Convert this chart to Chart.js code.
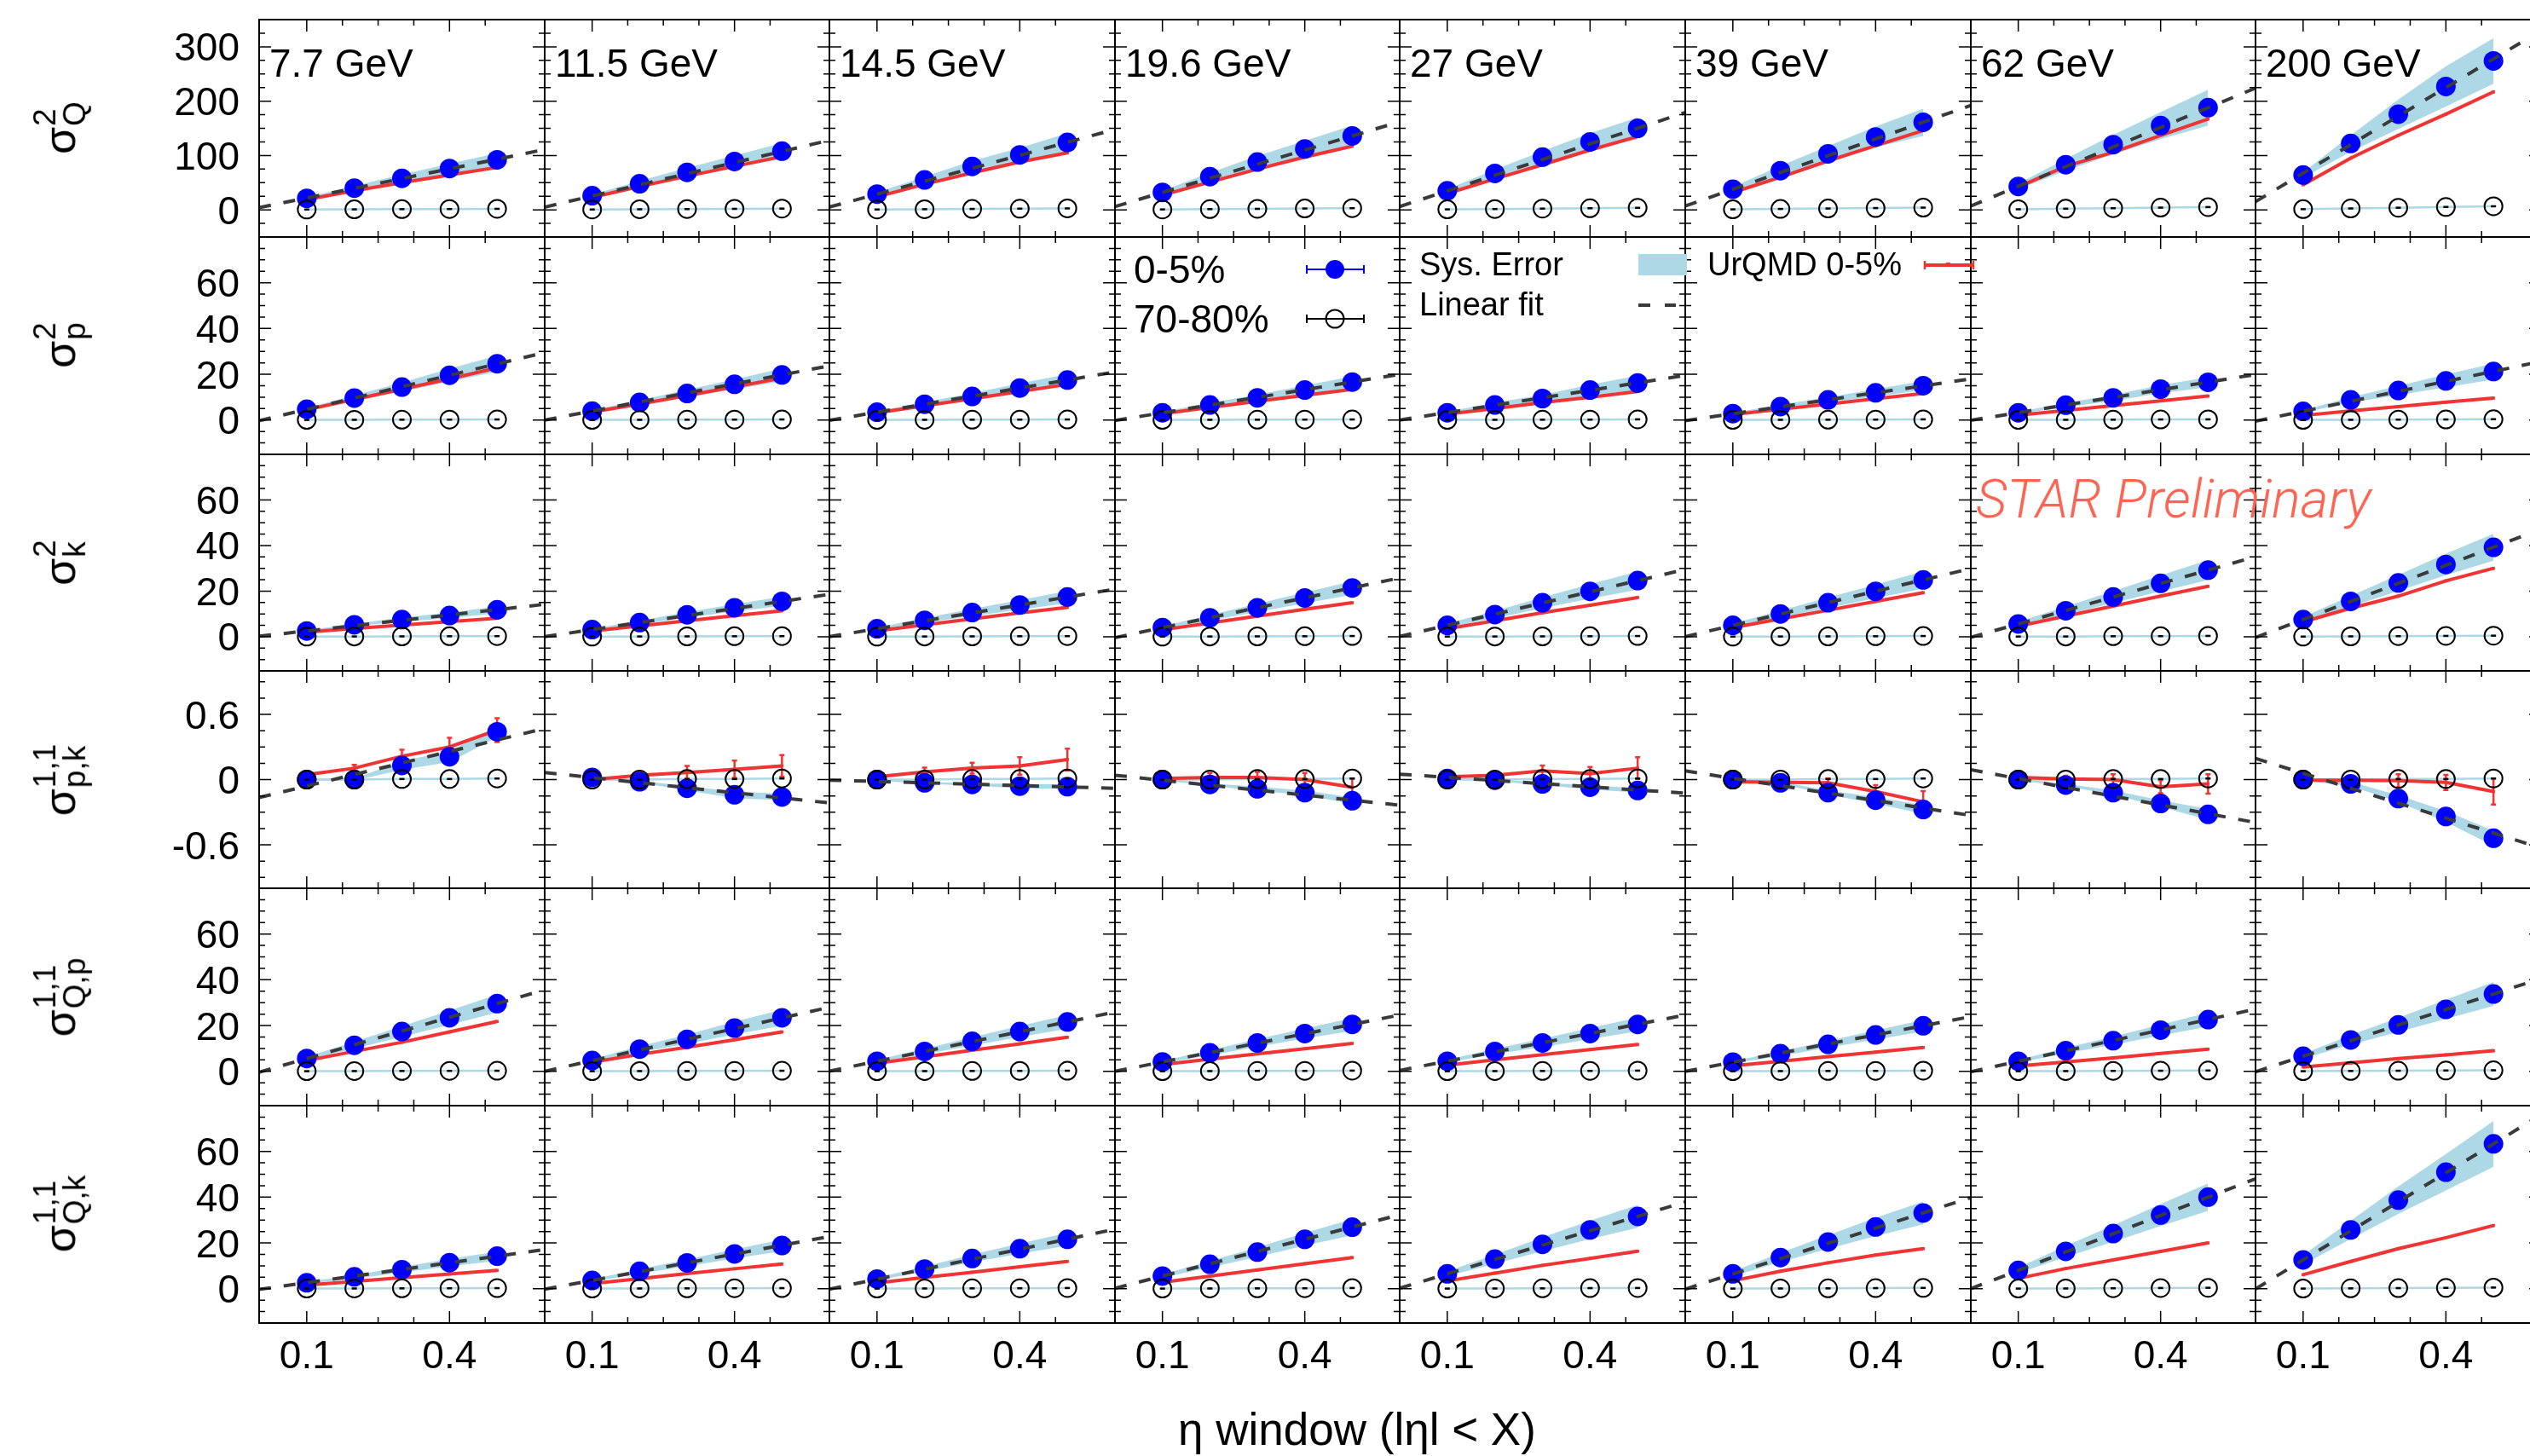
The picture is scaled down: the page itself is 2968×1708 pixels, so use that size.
<!DOCTYPE html>
<html>
<head>
<meta charset="utf-8">
<script src="https://cdn.jsdelivr.net/npm/chart.js@4.4.1/dist/chart.umd.min.js"></script>
<style>
  body { margin: 0; background: #fff; }
  #page { position: relative; width: 2968px; height: 1708px; overflow: hidden; background: #fff; }
  #page canvas { position: absolute; }
  .txt { position: absolute; font-family: "Liberation Sans", Arial, sans-serif; line-height: 1; white-space: nowrap; color: #000; }
  .ylab { position: absolute; transform: translate(-50%, -50%) rotate(-90deg); font-family: "Liberation Sans", Arial, sans-serif;
          display: flex; align-items: center; white-space: nowrap; line-height: 1; }
  .ylab .sig { font-size: 52px; }
  .ylab .st { display: inline-flex; flex-direction: column; font-size: 37px; line-height: 0.95; margin-left: 1px; }
  .star { position: absolute; font-family: Roboto, "Liberation Sans", sans-serif; font-style: italic; font-weight: 300;
          font-size: 63px; line-height: 1; color: #ff6452; white-space: nowrap; }
  #leg { position: absolute; left: 0; top: 0; }
</style>
</head>
<body>
<div id="page"></div>
<script>
// collision energies (columns) and eta windows (x values)
const energies = ['7.7 GeV', '11.5 GeV', '14.5 GeV', '19.6 GeV', '27 GeV', '39 GeV', '62 GeV', '200 GeV'];
const etaX = [0.1, 0.2, 0.3, 0.4, 0.5];

// sigma^2_Q
const q2Central = [[21,40,58,76,92],[26,48,69,89,108],[29,55,80,101,124],[32,61,88,112,136],
                   [35,67,97,125,150],[38,72,103,134,161],[43,83,120,155,188],[64,122,176,227,274]];
const q2Sys = [[2,4,7,9,12],[2,5,8,11,15],[3,6,10,13,17],[3,7,11,15,19],
               [3,7,11,16,20],[4,9,14,19,25],[5,11,18,25,33],[5,15,27,37,42]];
const q2Urqmd = [[19,35,50,64,78],[23,43,62,80,98],[24,47,68,88,105],[27,51,75,97,117],
                 [30,57,83,110,135],[32,60,90,118,146],[42,80,106,137,167],[46,95,137,176,217]];
const q2Periph = [[0.5,0.8,1.2,1.5,1.8],[0.6,1,1.4,1.8,2.2],[0.6,1.1,1.6,2.1,2.6],[0.7,1.3,1.8,2.4,3],
                  [0.8,1.5,2.2,2.9,3.6],[0.8,1.6,2.4,3.2,4],[1,2,3,4,5],[1.2,2.5,3.8,5.2,6.5]];
const q2Fit = [[4,111],[5,128],[5,148],[6,162],[6,179],[7,192],[7,224],[15,330]];

// sigma^2_p
const p2Central = [[4.7,9.6,14.4,19.6,24.6],[3.9,7.7,11.6,15.6,19.7],[3.4,6.9,10.3,14.0,17.5],[3.2,6.6,9.7,13.1,16.6],
                   [3.2,6.6,9.4,13.1,16.2],[2.8,5.9,8.8,11.9,15.0],[3.2,6.5,9.7,13.5,16.5],[3.8,8.8,12.9,17.1,21.2]];
const p2Sys = [[0.6,1.2,2,2.8,3.5],[0.5,1,1.6,2.2,2.8],[0.4,0.9,1.4,2,2.5],[0.4,0.9,1.4,2,2.5],
               [0.4,1,1.6,2.4,3.2],[0.4,0.8,1.2,1.6,2],[0.4,0.9,1.3,1.8,2.2],[0.5,1.2,2,2.8,3.5]];
const p2Urqmd = [[4.5,9,13.5,18,22.8],[3.5,7,10.7,14.5,18.3],[3.2,6.2,9.3,12.5,15.6],[2.8,5.5,8.2,10.8,13.4],
                 [2.6,5,7.6,10,12.5],[2.4,4.7,7,9.3,11.6],[2.1,4.2,6.3,8.4,10.5],[2,4,5.9,7.8,9.6]];
const p2Periph = [[0.05,0.1,0.15,0.2,0.25],[0.05,0.1,0.15,0.2,0.25],[0.05,0.1,0.15,0.2,0.25],[0.05,0.1,0.15,0.2,0.25],
                  [0.05,0.1,0.15,0.2,0.3],[0.05,0.1,0.15,0.2,0.3],[0.05,0.1,0.15,0.25,0.3],[0.05,0.1,0.2,0.25,0.35]];
const p2Fit = [[-0.3,29.5],[0,23.7],[-0.1,21],[-0.2,20],[0,19.5],[-0.3,18],[-0.1,19.9],[-0.5,25.6]];

// sigma^2_k
const k2Central = [[2.5,5.2,7.5,9.3,11.8],[3.1,6.2,9.6,12.7,15.5],[3.5,7.2,10.6,13.9,17.4],[4.0,8.3,12.7,17.0,21.4],
                   [5.0,9.7,14.9,19.9,24.6],[5.0,10.0,14.9,19.9,24.9],[5.6,11.4,17.4,23.4,29.2],[7.5,15.5,23.6,31.7,39.2]];
const k2Sys = [[0.3,0.6,0.9,1.2,1.5],[0.4,0.8,1.2,1.6,2],[0.5,1,1.6,2.1,2.7],[0.6,1.2,1.8,2.4,3],
               [0.8,1.6,2.4,3.2,4],[0.8,1.5,2.3,3,3.8],[0.9,1.8,2.6,3.5,4.4],[1.2,2.4,3.5,4.7,5.9]];
const k2Urqmd = [[2,3.6,5.1,6.6,8.1],[2.5,4.7,7,9.2,11.4],[2.6,5.2,7.8,10.4,12.9],[3,6,9,12,14.9],
                 [3.5,7,10.5,13.8,17.2],[4,7.8,11.6,15.5,19.3],[4.6,9,13.4,17.8,22.1],[6.5,12.5,17.8,24.5,30]];
const k2Periph = [[0.05,0.1,0.15,0.2,0.25],[0.05,0.1,0.15,0.2,0.25],[0.05,0.1,0.15,0.2,0.25],[0.05,0.1,0.15,0.2,0.3],
                  [0.05,0.1,0.15,0.2,0.3],[0.05,0.1,0.15,0.2,0.3],[0.05,0.1,0.2,0.25,0.35],[0.05,0.15,0.25,0.35,0.45]];
const k2Fit = [[0.2,14.2],[0,18.6],[0,20.9],[-0.4,25.8],[0.1,29.5],[0,29.9],[-0.3,35.1],[-0.4,47.2]];

// sigma^{1,1}_{p,k}
const pkCentral = [[0,0,0.13,0.21,0.44],[0.02,-0.02,-0.08,-0.14,-0.16],[0,-0.03,-0.045,-0.06,-0.065],[0,-0.045,-0.085,-0.12,-0.195],
                   [0.01,-0.005,-0.04,-0.07,-0.1],[0,-0.03,-0.12,-0.19,-0.275],[0,-0.05,-0.12,-0.22,-0.32],[0,-0.04,-0.175,-0.34,-0.54]];
const pkSys = [[0.01,0.01,0.04,0.05,0.05],[0.01,0.01,0.02,0.03,0.03],[0.01,0.01,0.01,0.02,0.02],[0.01,0.01,0.02,0.02,0.03],
               [0.01,0.01,0.01,0.02,0.02],[0.01,0.01,0.02,0.03,0.04],[0.01,0.01,0.02,0.03,0.05],[0.01,0.02,0.03,0.05,0.07]];
const pkUrqmd = [[0.045,0.105,0.215,0.3,0.455],[0,0.04,0.065,0.095,0.125],[0.025,0.07,0.105,0.125,0.185],[0.01,0.02,0.02,0,-0.07],
                 [0.025,0.04,0.08,0.055,0.105],[-0.02,-0.025,-0.03,-0.11,-0.205],[0.02,0.005,0,-0.066,-0.04],[-0.005,-0.005,-0.01,-0.026,-0.11]];
const pkUrqmdErr = [[0.01,0.03,0.06,0.085,0.11],[0.01,0.03,0.06,0.08,0.1],[0.01,0.04,0.05,0.08,0.1],[0.01,0.04,0.05,0.06,0.08],
                    [0.01,0.03,0.05,0.06,0.1],[0.01,0.02,0.04,0.06,0.1],[0.01,0.03,0.05,0.06,0.09],[0.01,0.03,0.06,0.07,0.12]];
const pkPeriph = [[0,0,0.005,0.005,0.01],[0,0,0.005,0.005,0.01],[0,0,0.005,0.005,0.01],[0,0,0.005,0.005,0.01],
                  [0,0,0.005,0.005,0.01],[0,0,0.005,0.005,0.01],[0,0,0.005,0.005,0.01],[0,0,0.005,0.005,0.01]];
const pkFit = [[-0.165,0.47],[0.065,-0.215],[-0.005,-0.08],[0.04,-0.235],[0.05,-0.125],[0.08,-0.33],[0.09,-0.395],[0.195,-0.63]];

// sigma^{1,1}_{Q,p}
const qpCentral = [[5.6,11.4,17.4,23.4,29.6],[4.7,9.7,14.0,18.9,23.4],[4.4,8.7,13.1,17.4,21.6],[4.1,8.1,12.4,16.5,20.5],
                   [4.4,8.7,12.4,16.5,20.5],[4.0,7.7,11.8,15.9,19.9],[4.4,9.0,13.4,18.0,22.6],[6.6,13.7,20.3,27.1,33.8]];
const qpSys = [[0.7,1.5,2.3,3.1,3.9],[0.6,1.3,2,2.8,3.5],[0.6,1.2,1.8,2.4,3],[0.5,1.1,1.7,2.2,2.8],
               [0.6,1.2,1.8,2.4,3],[0.5,1,1.5,2,2.5],[0.6,1.2,1.8,2.4,3],[1,2.1,3.1,4.2,5.2]];
const qpUrqmd = [[4.7,8.7,12.7,17.2,21.8],[4,7.4,10.5,13.8,17.2],[3.5,6.3,9.2,12,14.9],[3,5.3,7.6,9.9,12.2],
                 [2.7,5,7.3,9.5,11.7],[2.4,4.4,6.4,8.4,10.4],[2.3,4.1,5.9,7.8,9.7],[1.9,3.7,5.6,7.2,9]];
const qpPeriph = [[0.05,0.1,0.15,0.2,0.25],[0.05,0.1,0.15,0.2,0.25],[0.05,0.1,0.15,0.2,0.25],[0.05,0.1,0.15,0.2,0.3],
                  [0.05,0.1,0.15,0.2,0.3],[0.05,0.1,0.15,0.2,0.3],[0.05,0.1,0.2,0.25,0.35],[0.05,0.15,0.25,0.35,0.45]];
const qpFit = [[-0.4,35.6],[0,28],[0.1,25.9],[0,24.6],[0.4,24.6],[0,23.9],[-0.2,27.2],[-0.2,40.6]];

// sigma^{1,1}_{Q,k}
const qkCentral = [[2.6,5.2,8.3,11.4,14.2],[3.6,7.6,11.3,15.2,18.9],[4.2,8.6,13.2,17.5,21.6],[5.5,10.7,16.0,21.6,26.9],
                   [6.5,12.9,19.4,25.7,31.6],[6.5,13.6,20.4,27.0,33.1],[8.0,16.3,24.1,32.2,40.0],[12.6,25.7,38.7,50.9,63.3]];
const qkSys = [[0.4,0.8,1.2,1.6,2],[0.5,1,1.5,2,2.5],[0.6,1.1,1.7,2.2,2.8],[0.7,1.4,2.1,2.8,3.5],
               [1,2,3,4,5],[1,2,3,4,5],[1.2,2.4,3.6,4.8,6],[2,4,6,8,10]];
const qkUrqmd = [[1.6,3.2,4.8,6.4,8],[2.2,4.4,6.6,8.7,10.8],[2.5,4.9,7.2,9.6,11.9],[2.8,5.5,8.2,10.9,13.6],
                 [3.4,6.8,10.2,13.2,16.4],[3.5,7.6,11.3,14.7,17.5],[4.5,8.8,12.6,16.3,20],[6.1,11.9,17.5,22.3,27.6]];
const qkPeriph = [[0.05,0.1,0.15,0.2,0.25],[0.05,0.1,0.15,0.2,0.25],[0.05,0.1,0.15,0.2,0.3],[0.05,0.1,0.15,0.2,0.3],
                  [0.05,0.1,0.15,0.25,0.3],[0.05,0.1,0.15,0.25,0.35],[0.05,0.1,0.2,0.3,0.4],[0.05,0.15,0.25,0.35,0.5]];
const qkFit = [[-0.3,17.1],[-0.2,22.8],[-0.2,26],[0.2,32.3],[0.2,37.9],[-0.2,39.8],[0,48],[-0.1,76]];

// axes per row
const yRanges = [[-50, 350], [-15, 80], [-15, 80], [-1, 1], [-15, 80], [-15, 80]];
const yTickLabels = [[0, 100, 200, 300], [0, 20, 40, 60], [0, 20, 40, 60], [-0.6, 0, 0.6], [0, 20, 40, 60], [0, 20, 40, 60]];
const yMinorStep = [25, 5, 5, 0.15, 5, 5];
const xTickLabels = [0.1, 0.4];
const xMinorTicks = [0.175, 0.25, 0.325, 0.475];
const rowSup = ['2', '2', '2', '1,1', '1,1', '1,1'];
const rowSub = ['Q', 'p', 'k', 'p,k', 'Q,p', 'Q,k'];

const rows = [
  { central: q2Central, sys: q2Sys, urqmd: q2Urqmd, periph: q2Periph, fit: q2Fit },
  { central: p2Central, sys: p2Sys, urqmd: p2Urqmd, periph: p2Periph, fit: p2Fit },
  { central: k2Central, sys: k2Sys, urqmd: k2Urqmd, periph: k2Periph, fit: k2Fit },
  { central: pkCentral, sys: pkSys, urqmd: pkUrqmd, periph: pkPeriph, fit: pkFit, err: pkUrqmdErr },
  { central: qpCentral, sys: qpSys, urqmd: qpUrqmd, periph: qpPeriph, fit: qpFit },
  { central: qkCentral, sys: qkSys, urqmd: qkUrqmd, periph: qkPeriph, fit: qkFit }
];

const BLUE = '#0000ff', RED = '#f03434', BAND = '#add8e6', FIT = '#3a3a3a';
const FONT = '"Liberation Sans", Arial, sans-serif';
const PL = 304, PT = 23, CW = 334.6, RH = 254.8;

const pts = vals => vals.map((v, i) => ({ x: etaX[i], y: v }));

const framePlugin = {
  id: 'frame',
  afterDatasetDraw(chart, args, opts) {
    if (args.index !== 4 || !opts.err) return;
    const { ctx, scales: { x, y } } = chart;
    ctx.save();
    ctx.strokeStyle = RED;
    ctx.lineWidth = 2.5;
    opts.err.forEach((e, i) => {
      const px = x.getPixelForValue(etaX[i]);
      const y1 = y.getPixelForValue(opts.red[i] + e);
      const y2 = y.getPixelForValue(opts.red[i] - e);
      ctx.beginPath();
      ctx.moveTo(px, y1); ctx.lineTo(px, y2);
      ctx.moveTo(px - 3, y1); ctx.lineTo(px + 3, y1);
      ctx.moveTo(px - 3, y2); ctx.lineTo(px + 3, y2);
      ctx.stroke();
    });
    ctx.restore();
  },
  afterDraw(chart, args, opts) {
    const { ctx, chartArea: a, scales: { x, y } } = chart;
    const r = opts.row, c = opts.col;
    const [ymin, ymax] = yRanges[r];
    ctx.save();
    ctx.strokeStyle = '#000';
    ctx.lineWidth = 1.5;
    ctx.beginPath();
    const xt = xTickLabels.map(v => [v, 14]).concat(xMinorTicks.map(v => [v, 7]));
    xt.forEach(([v, len]) => {
      const px = x.getPixelForValue(v);
      ctx.moveTo(px, a.bottom); ctx.lineTo(px, a.bottom - len);
      ctx.moveTo(px, a.top); ctx.lineTo(px, a.top + len);
    });
    const step = yMinorStep[r];
    for (let k = Math.ceil(ymin / step - 1e-9); k <= Math.floor(ymax / step + 1e-9); k++) {
      const v = k * step;
      if (Math.abs(v - ymin) < 1e-9 || Math.abs(v - ymax) < 1e-9) continue;
      const major = yTickLabels[r].some(t => Math.abs(t - v) < 1e-6);
      const len = major ? 14 : 7;
      const py = y.getPixelForValue(v);
      ctx.moveTo(a.left, py); ctx.lineTo(a.left + len, py);
      ctx.moveTo(a.right, py); ctx.lineTo(a.right - len, py);
    }
    ctx.stroke();
    ctx.lineWidth = 2;
    ctx.strokeRect(a.left, a.top, a.right - a.left, a.bottom - a.top);
    ctx.fillStyle = '#000';
    ctx.font = '46px ' + FONT;
    if (c === 0) {
      ctx.textAlign = 'right';
      ctx.textBaseline = 'alphabetic';
      yTickLabels[r].forEach(v => ctx.fillText(String(v), a.left - 23, y.getPixelForValue(v) + 16.5));
    }
    if (r === 5) {
      ctx.textAlign = 'center';
      ctx.textBaseline = 'alphabetic';
      xTickLabels.forEach(v => ctx.fillText(String(v), x.getPixelForValue(v), a.bottom + 53));
    }
    ctx.restore();
  }
};

const page = document.getElementById('page');

rows.forEach((row, r) => {
  energies.forEach((en, c) => {
    const left = Math.round(PL + c * CW), right = Math.round(PL + (c + 1) * CW);
    const top = Math.round(PT + r * RH), bottom = Math.round(PT + (r + 1) * RH);
    const pad = { left: c === 0 ? 300 : 6, right: 6, top: 6, bottom: r === 5 ? 90 : 6 };
    const cv = document.createElement('canvas');
    const w = right - left + pad.left + pad.right, h = bottom - top + pad.top + pad.bottom;
    cv.width = w; cv.height = h;
    cv.style.left = (left - pad.left) + 'px';
    cv.style.top = (top - pad.top) + 'px';
    cv.style.width = w + 'px'; cv.style.height = h + 'px';
    page.appendChild(cv);

    const cen = row.central[c], sys = row.sys[c];
    const datasets = [
      { data: [{ x: 0, y: row.fit[c][0] }, { x: 0.6, y: row.fit[c][1] }], borderColor: FIT, borderWidth: 4,
        borderDash: [14, 15], pointRadius: 0, order: 1 },
      { data: pts(row.periph[c]), showLine: false, pointRadius: 10.5, pointBorderWidth: 2,
        pointBorderColor: '#000', pointBackgroundColor: 'rgba(0,0,0,0)', order: 2 },
      { data: pts(row.periph[c]), showLine: false, pointStyle: 'line', pointRadius: 3, pointBorderWidth: 2.5,
        pointBorderColor: '#000', order: 2.5 },
      { data: pts(cen), showLine: false, pointRadius: 11.5, pointBorderWidth: 0, pointBackgroundColor: BLUE, order: 3 },
      { data: pts(row.urqmd[c]), borderColor: RED, borderWidth: 4, pointStyle: 'rect', pointRadius: 2.5,
        pointBorderWidth: 0, pointBackgroundColor: RED, order: 4 },
      { data: pts(row.periph[c]), borderColor: BAND, borderWidth: 2.5, pointRadius: 0, order: 5 },
      { data: pts(cen.map((v, i) => v - sys[i])), borderWidth: 0, borderColor: 'rgba(0,0,0,0)', pointRadius: 0, order: 7 },
      { data: pts(cen.map((v, i) => v + sys[i])), borderWidth: 0, borderColor: 'rgba(0,0,0,0)', pointRadius: 0,
        fill: '-1', backgroundColor: BAND, order: 6 }
    ];

    new Chart(cv, {
      type: 'line',
      data: { datasets },
      options: {
        responsive: false, animation: false, devicePixelRatio: 1, events: [],
        layout: { padding: pad, autoPadding: false },
        scales: {
          x: { type: 'linear', min: 0, max: 0.6, display: false },
          y: { type: 'linear', min: yRanges[r][0], max: yRanges[r][1], display: false }
        },
        plugins: {
          legend: { display: false }, tooltip: { enabled: false },
          frame: { row: r, col: c, err: row.err ? row.err[c] : null, red: row.urqmd[c] }
        }
      },
      plugins: [framePlugin]
    });

    if (r === 0) {
      const d = document.createElement('div');
      d.className = 'txt';
      d.style.fontSize = '46px';
      d.style.left = (left + 12) + 'px';
      d.style.top = (top + 28) + 'px';
      d.textContent = en;
      page.appendChild(d);
    }
  });

  const lab = document.createElement('div');
  lab.className = 'ylab';
  lab.style.left = '70px';
  lab.style.top = Math.round(PT + (r + 0.5) * RH) + 'px';
  lab.innerHTML = '<span class="sig">σ</span><span class="st"><span>' + rowSup[r] + '</span><span>' + rowSub[r] + '</span></span>';
  page.appendChild(lab);
});

function addText(str, x, y, size, extra) {
  const d = document.createElement('div');
  d.className = 'txt';
  d.style.fontSize = size + 'px';
  d.style.left = x + 'px';
  d.style.top = y + 'px';
  if (extra) d.style.transform = extra;
  d.textContent = str;
  page.appendChild(d);
}
addText('0-5%', 1330, 293, 46);
addText('70-80%', 1330, 351, 46);
addText('Sys. Error', 1665, 291, 38);
addText('Linear fit', 1665, 338, 38);
addText('UrQMD 0-5%', 2003, 291, 38);
addText('η window (lηl < X)', 1592, 1650, 53, 'translateX(-50%)');

const star = document.createElement('div');
star.className = 'star';
star.style.left = '2318px';
star.style.top = '554px';
star.textContent = 'STAR Preliminary';
page.appendChild(star);

// legend symbols
const svgNS = 'http://www.w3.org/2000/svg';
const svg = document.createElementNS(svgNS, 'svg');
svg.setAttribute('id', 'leg');
svg.setAttribute('width', 2968);
svg.setAttribute('height', 1708);
svg.innerHTML = `
  <line x1="1533" y1="316" x2="1600" y2="316" stroke="${BLUE}" stroke-width="2"/>
  <line x1="1533" y1="311" x2="1533" y2="321" stroke="${BLUE}" stroke-width="2"/>
  <line x1="1600" y1="311" x2="1600" y2="321" stroke="${BLUE}" stroke-width="2"/>
  <circle cx="1566" cy="316" r="11" fill="${BLUE}"/>
  <line x1="1533" y1="374" x2="1600" y2="374" stroke="#000" stroke-width="2"/>
  <line x1="1533" y1="369" x2="1533" y2="379" stroke="#000" stroke-width="2"/>
  <line x1="1600" y1="369" x2="1600" y2="379" stroke="#000" stroke-width="2"/>
  <circle cx="1566" cy="374" r="10.5" fill="none" stroke="#000" stroke-width="2"/>
  <rect x="1922" y="298" width="57" height="25" fill="${BAND}"/>
  <line x1="1922" y1="358" x2="1936" y2="358" stroke="${FIT}" stroke-width="4"/>
  <line x1="1953" y1="358" x2="1966" y2="358" stroke="${FIT}" stroke-width="4"/>
  <line x1="2258" y1="311" x2="2315" y2="311" stroke="${RED}" stroke-width="4"/>
  <line x1="2258" y1="306" x2="2258" y2="316" stroke="${RED}" stroke-width="2.5"/>
  <line x1="2315" y1="306" x2="2315" y2="316" stroke="${RED}" stroke-width="2.5"/>
  <rect x="2283" y="308" width="5" height="5" fill="${RED}"/>`;
page.appendChild(svg);
</script>
</body>
</html>
